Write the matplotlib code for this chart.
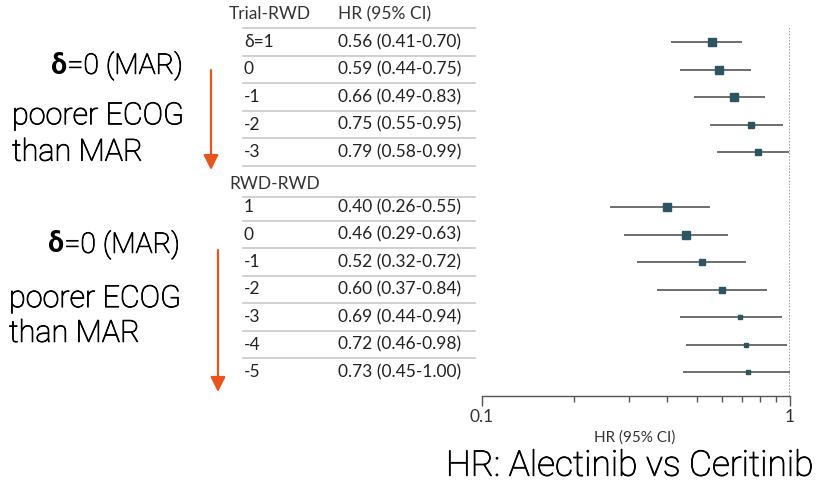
import matplotlib
matplotlib.use("Agg")
import matplotlib.pyplot as plt
import matplotlib.patheffects as pe
from matplotlib.transforms import blended_transform_factory
from matplotlib.ticker import LogLocator, FixedLocator, NullFormatter

# ---- data ----
trial_labels = ["δ=1", "0", "-1", "-2", "-3"]
trial_hr = [0.56, 0.59, 0.66, 0.75, 0.79]
trial_lo = [0.41, 0.44, 0.49, 0.55, 0.58]
trial_hi = [0.70, 0.75, 0.83, 0.95, 0.99]

rwd_labels = ["1", "0", "-1", "-2", "-3", "-4", "-5"]
rwd_hr = [0.40, 0.46, 0.52, 0.60, 0.69, 0.72, 0.73]
rwd_lo = [0.26, 0.29, 0.32, 0.37, 0.44, 0.46, 0.45]
rwd_hi = [0.55, 0.63, 0.72, 0.84, 0.94, 0.98, 1.00]

group_titles = ["Trial-RWD", "RWD-RWD"]
col_header = "HR (95% CI)"
x_ticks = [0.1, 1]
x_tick_labels = ["0.1", "1"]
x_label = "HR (95% CI)"
title = "HR: Alectinib vs Ceritinib"

# style (marker sizes in px)
trial_msize = [9, 9, 7.5, 6.5, 6.5]
rwd_msize = [8, 8, 7, 6, 4.5, 4.5, 4.5]

W, H = 818, 487
fig = plt.figure(figsize=(W / 100, H / 100), dpi=100)
FONT = "Lato"
TXT = "#222222"
MK = "#2c5461"
LN = "#555555"
ORANGE = "#e8541c"
THICK = [pe.withStroke(linewidth=0.6, foreground="#000000")]

def fx(px):
    return px / W

def fy(py):
    return 1 - py / H

ax_top, ax_bot = 28, 396
ax_l, ax_r = 481.5, 790
ax = fig.add_axes([fx(ax_l), fy(ax_bot), fx(ax_r - ax_l), (ax_bot - ax_top) / H])
ax.set_xscale("log")
ax.set_xlim(0.1, 1)

row0, step = 42, 27.5
ylo = (ax_top - row0) / step
yhi = (ax_bot - row0) / step
ax.set_ylim(yhi, ylo)

trial_pos = list(range(len(trial_labels)))
rwd_pos = [len(trial_labels) + 1 + i for i in range(len(rwd_labels))]
header2_pos = len(trial_labels) + 0.15

for pos, h, lo, hi, ms in zip(trial_pos + rwd_pos, trial_hr + rwd_hr,
                              trial_lo + rwd_lo, trial_hi + rwd_hi,
                              trial_msize + rwd_msize):
    ax.plot([lo, hi], [pos, pos], color=LN, lw=1.2, solid_capstyle="butt", zorder=2)
    ax.plot([h], [pos], marker="s", ms=ms / 1.389, color=MK, mec=MK, zorder=3)

ax.axvline(1, color="#888888", lw=1.1, ls=(0, (1, 1)), zorder=1)

for s in ["top", "right", "left"]:
    ax.spines[s].set_visible(False)
ax.spines["bottom"].set_color("#555555")
ax.spines["bottom"].set_linewidth(1.0)
ax.yaxis.set_visible(False)
ax.xaxis.set_major_locator(FixedLocator(x_ticks))
ax.set_xticklabels(x_tick_labels)
ax.xaxis.set_minor_locator(LogLocator(base=10, subs=range(2, 10)))
ax.xaxis.set_minor_formatter(NullFormatter())
ax.tick_params(axis="x", which="major", length=7, width=1, color="#555555",
               labelsize=12.5, labelcolor="#333333", pad=2)
ax.tick_params(axis="x", which="minor", length=4, width=1, color="#555555")
for t in ax.get_xticklabels():
    t.set_fontfamily(FONT)
ax.patch.set_alpha(0)

fig.text(fx(635), fy(438), x_label, ha="center", va="center", fontsize=11,
         family=FONT, color="#333333")
fig.text(fx(813), fy(466), title, ha="right", va="center", fontsize=25.5,
         family="Roboto", fontweight="light", color="#000000", path_effects=THICK)

# table
tr = blended_transform_factory(fig.transFigure, ax.transData)
tsize = 12.5
hdr_pos = (14 - row0) / step
ax.text(fx(229), hdr_pos, group_titles[0], transform=tr, ha="left", va="center",
        fontsize=tsize, family=FONT, color="#333333", clip_on=False)
ax.text(fx(338), hdr_pos, col_header, transform=tr, ha="left", va="center",
        fontsize=tsize, family=FONT, color="#333333", clip_on=False)
ax.text(fx(229), header2_pos, group_titles[1], transform=tr, ha="left", va="center",
        fontsize=tsize, family=FONT, color="#333333", clip_on=False)

for pos, lab, h, lo, hi in zip(trial_pos + rwd_pos, trial_labels + rwd_labels,
                               trial_hr + rwd_hr, trial_lo + rwd_lo, trial_hi + rwd_hi):
    ax.text(fx(244), pos, lab, transform=tr, ha="left", va="center",
            fontsize=tsize, family=FONT, color=TXT, clip_on=False)
    ax.text(fx(338), pos, f"{h:.2f} ({lo:.2f}-{hi:.2f})", transform=tr, ha="left",
            va="center", fontsize=tsize, family=FONT, color=TXT, clip_on=False)

sep = [-0.5] + [p + 0.5 for p in trial_pos] + [header2_pos + 0.47] + [p + 0.5 for p in rwd_pos[:-1]]
for s in sep:
    ax.plot([fx(243), fx(475)], [s, s], transform=tr, color="#c8c8c8", lw=1.2,
            clip_on=False)

# left annotations
afont = "Roboto"
asize = 22
dsize = 20.5
def delta_label(ypx, xr):
    t = fig.text(fx(xr), fy(ypx), "=0 (MAR)", ha="right", va="center", fontsize=dsize,
                 family=afont, fontweight="light", color="#000000", path_effects=THICK)
    fig.canvas.draw()
    bb = t.get_window_extent()
    fig.text(bb.x0 / W, fy(ypx), "δ", ha="right", va="center", fontsize=dsize,
             family=afont, fontweight="bold", color="#000000")

delta_label(66, 183)
fig.text(fx(12), fy(134), "poorer ECOG\nthan MAR", ha="left", va="center", fontsize=asize,
         family=afont, fontweight="light", color="#000000", linespacing=1.32,
         path_effects=THICK)
delta_label(245, 180)
fig.text(fx(9), fy(316), "poorer ECOG\nthan MAR", ha="left", va="center", fontsize=asize,
         family=afont, fontweight="light", color="#000000", linespacing=1.25,
         path_effects=THICK)

for x, y0, y1 in [(211, 70, 170), (218, 250, 392)]:
    fig.add_artist(matplotlib.patches.FancyArrowPatch(
        (fx(x), fy(y0)), (fx(x), fy(y1)), transform=fig.transFigure,
        arrowstyle="-|>,head_length=6,head_width=3", color=ORANGE, lw=1.6,
        mutation_scale=1.5, shrinkA=0, shrinkB=0))

fig.savefig("out.png", dpi=100)
